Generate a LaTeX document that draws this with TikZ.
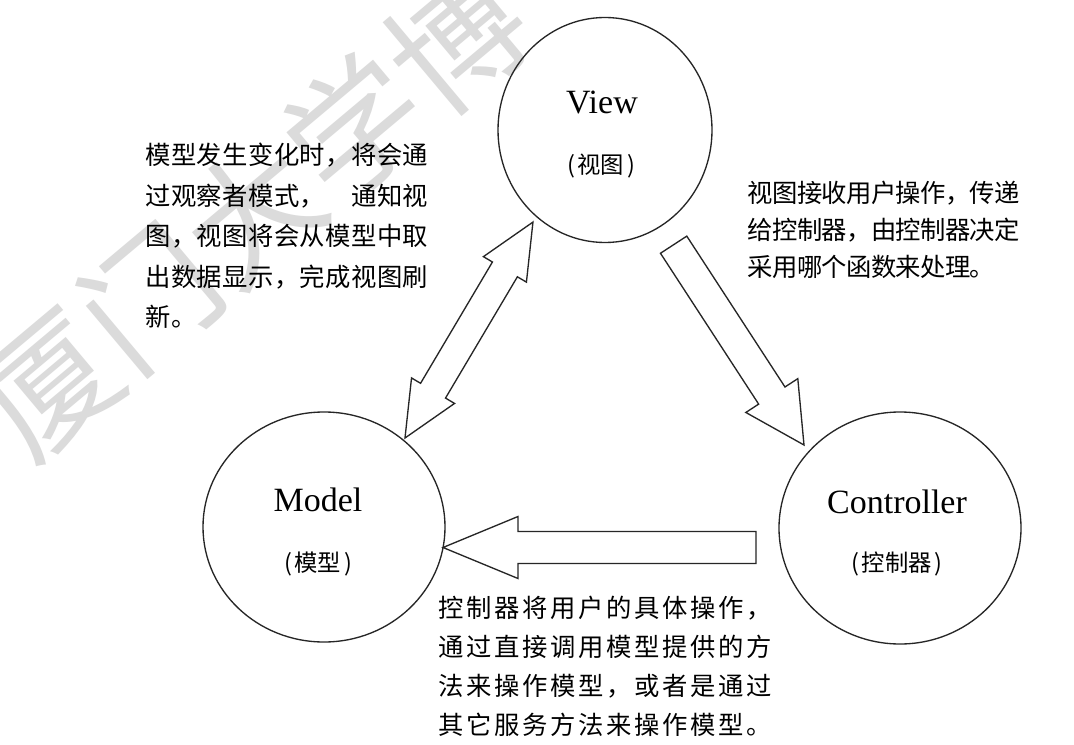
\documentclass[tikz,border=0pt]{standalone}
\usepackage{fontspec}
\setmainfont{Liberation Serif}
\newfontfamily\cjk{Noto Sans CJK SC}
\usetikzlibrary{shapes.geometric}
\newlength\cpitch
\def\spc#1{\ifx#1\relax\else\makebox[\cpitch]{#1}\expandafter\spc\fi}
\def\E{\phantom{字}}
\tikzset{
  circ/.style={ellipse, draw=black!85, line width=1pt, inner sep=0pt},
  lab/.style={font=\fontsize{25.5pt}{30pt}\selectfont, inner sep=0pt},
  sublab/.style={font=\cjk\fontsize{17.5pt}{20pt}\selectfont, inner sep=0pt, text height=15.4pt, text depth=2.1pt},
  ann/.style={font=\cjk\fontsize{19pt}{22pt}\selectfont, inner sep=0pt, anchor=west, text height=16.7pt, text depth=2.3pt},
  blk/.style={draw=black!85, line width=1pt, fill=white, line join=miter},
  loc/.style={x=0.75pt, y=0.75pt},
  wmark/.style={font=\cjk\fontsize{100pt}{102pt}\selectfont, text=black!14, inner sep=0pt}
}
\newcommand\pp[1]{\makebox[10pt]{#1}}
\begin{document}
\begin{tikzpicture}[x=0.75pt,y=-0.75pt]
\fill[white] (0,0) rectangle (1074,745);
\useasboundingbox (0,0) rectangle (1074,745);

% watermark
\node[wmark, rotate=40] (wm) at (252,212) {厦门大学博};

% end points of the block arrows
\coordinate (vm1) at (533,222);
\coordinate (vm2) at (405,438);
\coordinate (vc1) at (673.5,244.5);
\coordinate (vc2) at (804,445);
\coordinate (cm1) at (756,547.5);
\coordinate (cm2) at (443,547.5);

% View <-> Model
\begin{scope}[shift={(vm2)}, rotate=59.35, loc]
  \draw[blk] (0,0) -- (55,25) -- (55,14.5) -- (196,14.5) -- (196,25) -- (251,0)
    -- (196,-25) -- (196,-14.5) -- (55,-14.5) -- (55,-25) -- cycle;
\end{scope}
% View -> Controller
\begin{scope}[shift={(vc2)}, rotate=123.06, loc]
  \draw[blk] (0,0) -- (59,31) -- (59,15.7) -- (239,15.7) -- (239,-15.7)
    -- (59,-15.7) -- (59,-31) -- cycle;
\end{scope}
% Controller -> Model
\begin{scope}[shift={(cm2)}, loc]
  \draw[blk] (0,0) -- (75,31) -- (75,16) -- (313,16) -- (313,-16)
    -- (75,-16) -- (75,-31) -- cycle;
\end{scope}

\node[circ, minimum width=160.5pt, minimum height=168.75pt] (view) at (605,130) {};
\node[circ, minimum width=181.5pt, minimum height=172.5pt] (model) at (324,527) {};
\node[circ, minimum width=181.5pt, minimum height=174pt] (ctrl) at (900,528) {};

\node[lab] (viewt) at (602,103) {View};
\node[sublab] (views) at (601,165) {\pp{(}视图\pp{)}};
\node[lab] (modelt) at (318,500) {Model};
\node[sublab] (models) at (318,563) {\pp{(}模型\pp{)}};
\node[lab] (ctrlt) at (897,502) {Controller};
\node[sublab] (ctrls) at (897,563) {\pp{(}控制器\pp{)}};

\setlength\cpitch{19.3pt}
\node[ann] (l1) at (145,155) {\spc 模型发生变化时，将会通\relax};
\node[ann] (l2) at (145,195.5) {\spc 过观察者模式，\E 通知视\relax};
\node[ann] (l3) at (145,236) {\spc 图，视图将会从模型中取\relax};
\node[ann] (l4) at (145,276.5) {\spc 出数据显示，完成视图刷\relax};
\node[ann] (l5) at (145,317) {\spc 新。\relax};

\setlength\cpitch{18.5pt}
\node[ann] (r1) at (748,193) {\spc 视图接收用户操作，传递\relax};
\node[ann] (r2) at (748,230) {\spc 给控制器，由控制器决定\relax};
\node[ann] (r3) at (748,267) {\spc 采用哪个函数来处理。\relax};

\setlength\cpitch{21pt}
\node[ann] (b1) at (437,608) {\spc 控制器将用户的具体操作，\relax};
\node[ann] (b2) at (437,647) {\spc 通过直接调用模型提供的方\relax};
\node[ann] (b3) at (437,686) {\spc 法来操作模型，或者是通过\relax};
\node[ann] (b4) at (437,725) {\spc 其它服务方法来操作模型。\relax};
\end{tikzpicture}
\end{document}
